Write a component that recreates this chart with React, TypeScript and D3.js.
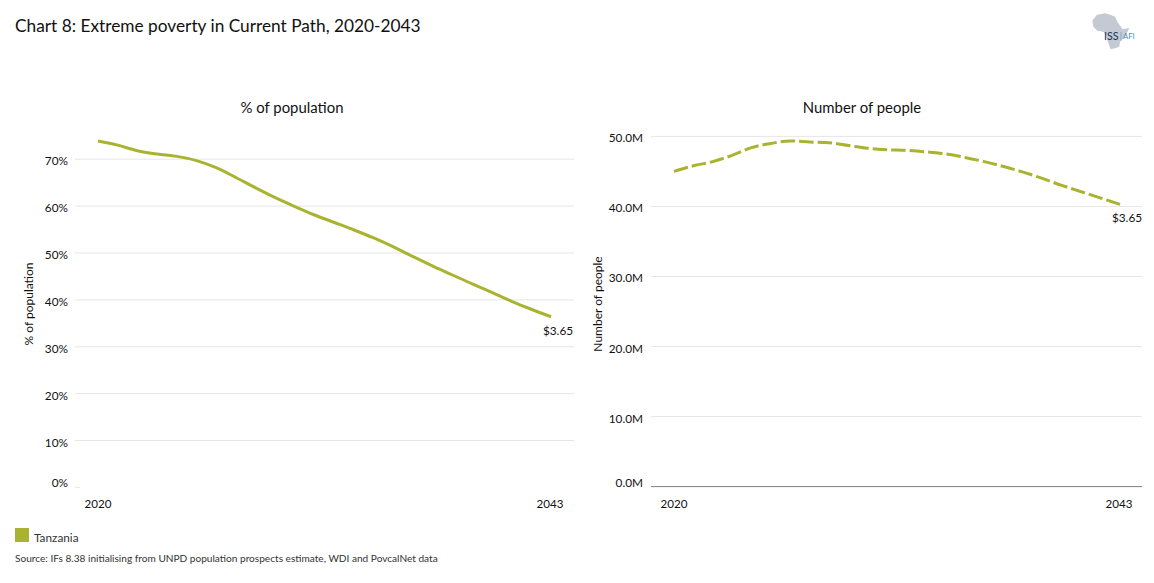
import * as d3 from 'd3'

const years = d3.range(2020, 2044)
const povertyPct = [
  73.9, 73.0, 71.8, 71.1, 70.6, 69.7, 68.2, 66.1, 63.9, 61.8, 59.9, 58.1, 56.5, 54.9, 53.2, 51.3, 49.2, 47.2,
  45.3, 43.4, 41.6, 39.7, 38.0, 36.4,
]
const povertyPeople = [
  45.0, 45.8, 46.4, 47.3, 48.4, 49.0, 49.35, 49.2, 49.1, 48.7, 48.3, 48.1, 48.0, 47.8, 47.5, 47.0, 46.4, 45.7,
  44.9, 44.0, 43.0, 42.1, 41.2, 40.3,
]
const pctTicks = [0, 10, 20, 30, 40, 50, 60, 70]
const peopleTicks = [0, 10, 20, 30, 40, 50]
const xTickYears = [2020, 2043]

const width = 1154
const height = 583
const green = '#AAB32F'
const textColor = '#111'
const font = 'Lato, sans-serif'

const pctX = d3.scaleLinear().domain([2020, 2043]).range([98, 551])
const pctY = d3.scaleLinear().domain([0, 70]).range([487.4, 159.2])
const peopleX = d3.scaleLinear().domain([2020, 2043]).range([674, 1120])
const peopleY = d3.scaleLinear().domain([0, 50]).range([486.6, 136.4])

interface PanelProps {
  title: string
  axisTitle: string
  values: number[]
  ticks: number[]
  x: d3.ScaleLinear<number, number>
  y: d3.ScaleLinear<number, number>
  left: number
  right: number
  labelRight: number
  titleX: number
  axisTitleX: number
  format: (v: number) => string
  dash?: string
  baseline?: boolean
}

function Panel({
  title,
  axisTitle,
  values,
  ticks,
  x,
  y,
  left,
  right,
  labelRight,
  titleX,
  axisTitleX,
  format,
  dash,
  baseline,
}: PanelProps) {
  const line = d3
    .line<number>()
    .x((_, i) => x(years[i]))
    .y((d) => y(d))
    .curve(d3.curveMonotoneX)

  const lastValue = values[values.length - 1]

  return (
    <g>
      <text x={titleX} y={113} textAnchor="middle" fontSize={14.9} fill={textColor}>
        {title}
      </text>
      <text
        transform={`translate(${axisTitleX},304) rotate(-90)`}
        textAnchor="middle"
        fontSize={12}
        fill={textColor}
      >
        {axisTitle}
      </text>

      {/* Gridlines and y labels */}
      {ticks.map((t) => (
        <g key={t}>
          {t === 0 ? (
            baseline ? (
              <line x1={left} x2={right} y1={y(t)} y2={y(t)} stroke="#7f7f7f" strokeWidth={1} />
            ) : (
              <line x1={left} x2={left + 5} y1={y(t)} y2={y(t)} stroke="#e6e6e6" strokeWidth={1} />
            )
          ) : (
            <line x1={left} x2={right} y1={y(t)} y2={y(t)} stroke="#e6e6e6" strokeWidth={1} />
          )}
          <text x={labelRight} y={y(t) + (t === 0 ? 0 : 6)} textAnchor="end" fontSize={11.8} fill={textColor}>
            {format(t)}
          </text>
        </g>
      ))}

      {/* X ticks */}
      {xTickYears.map((yr) => (
        <text key={yr} x={x(yr) - (yr === 2043 ? 1 : 0)} y={508} textAnchor="middle" fontSize={11.6} fill={textColor}>
          {yr}
        </text>
      ))}

      <path
        d={line(values) || ''}
        fill="none"
        stroke={green}
        strokeWidth={3}
        strokeDasharray={dash}
        strokeLinejoin="round"
      />
      <text x={x(2043)} y={y(lastValue) + 18} textAnchor="middle" fontSize={11.8} fill={textColor} dx={7}>
        $3.65
      </text>
    </g>
  )
}

function Logo() {
  // Rough outline of the ISS African Futures logo
  return (
    <g transform="translate(1060,0) scale(0.3333)">
      <path
        d="M97,62 L110,45 L135,40 L150,44 L165,50 L175,70 L188,88 L208,84 L195,110 L180,125 L178,140 L165,145 L152,148 L145,130 L138,105 L130,95 L112,92 L100,80 Z"
        fill="#c3cad3"
      />
      <text x={132} y={120} fontSize={32} fontWeight={500} fill="#1f3a5f">
        ISS
      </text>
      <line x1={183} x2={183} y1={96} y2={122} stroke="#6f9fc5" strokeWidth={2} />
      <text x={189} y={118} fontSize={23} fill="#4a8fc0">
        AFI
      </text>
    </g>
  )
}

export default function App() {
  return (
    <svg
      width={width}
      height={height}
      viewBox={`0 0 ${width} ${height}`}
      style={{ position: 'absolute', left: 0, top: 0, background: '#fff', fontFamily: font }}
    >
      <text x={15} y={32} fontSize={17.3} fill="#111">
        Chart 8: Extreme poverty in Current Path, 2020-2043
      </text>
      <Logo />

      <Panel
        title="% of population"
        axisTitle="% of population"
        values={povertyPct}
        ticks={pctTicks}
        x={pctX}
        y={pctY}
        left={75}
        right={574}
        labelRight={68}
        titleX={292}
        axisTitleX={33}
        format={(v) => `${v}%`}
      />
      <Panel
        title="Number of people"
        axisTitle="Number of people"
        values={povertyPeople}
        ticks={peopleTicks}
        x={peopleX}
        y={peopleY}
        left={651}
        right={1142}
        labelRight={643}
        titleX={862}
        axisTitleX={602}
        format={(v) => `${v.toFixed(1)}M`}
        dash="14.5,4"
        baseline
      />

      {/* Legend */}
      <rect x={15} y={528} width={14} height={14} fill={green} />
      <text x={34} y={542} fontSize={11.8} fill="#333">
        Tanzania
      </text>
      <text x={15} y={562} fontSize={10.1} fill="#333">
        Source: IFs 8.38 initialising from UNPD population prospects estimate, WDI and PovcalNet data
      </text>
    </svg>
  )
}
